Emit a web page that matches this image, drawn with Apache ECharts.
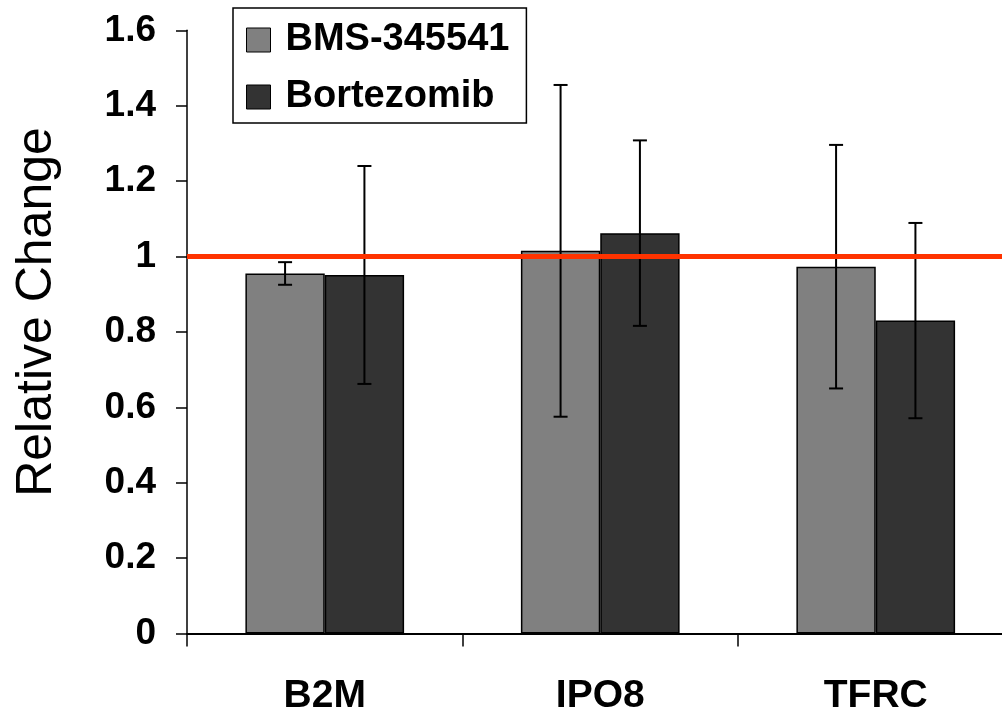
<!DOCTYPE html>
<html>
<head>
<meta charset="utf-8">
<script src="https://cdn.jsdelivr.net/npm/echarts@6/dist/echarts.min.js"></script>
<style>
html,body{margin:0;padding:0;background:#fff;}
#chart{width:1002px;height:713px;}
</style>
</head>
<body>
<div id="chart"></div>
<script>
// ---- data ----
const categories = ['B2M', 'IPO8', 'TFRC'];
const seriesNames = ['BMS-345541', 'Bortezomib'];
const bmsValues = [0.955, 1.015, 0.973];
const bmsErrors = [0.030, 0.440, 0.323];
const bortValues = [0.951, 1.062, 0.830];
const bortErrors = [0.289, 0.246, 0.259];
const yMin = 0, yMax = 1.6, yInterval = 0.2;
const referenceValue = 1;

const FONT = '"Liberation Sans", Arial, sans-serif';
const BAR_RATIO = 0.288;

function errorData(vals, errs) {
  return vals.map((v, i) => [i, v, errs[i]]);
}
function errorRender(side) {
  return function (params, api) {
    const band = api.size([1, 0])[0];
    const off = side * band * BAR_RATIO / 2;
    const top = api.coord([api.value(0), api.value(1) + api.value(2)]);
    const bot = api.coord([api.value(0), api.value(1) - api.value(2)]);
    const x = top[0] + off;
    const cap = 7;
    const st = { stroke: '#000', lineWidth: 2 };
    return {
      type: 'group',
      children: [
        { type: 'line', shape: { x1: x, y1: top[1], x2: x, y2: bot[1] }, style: st },
        { type: 'line', shape: { x1: x - cap, y1: top[1], x2: x + cap, y2: top[1] }, style: st },
        { type: 'line', shape: { x1: x - cap, y1: bot[1], x2: x + cap, y2: bot[1] }, style: st }
      ]
    };
  };
}

const chart = echarts.init(document.getElementById('chart'), null, { renderer: 'canvas' });
chart.setOption({
  animation: false,
  backgroundColor: '#fff',
  grid: { left: 187, top: 30.3, right: -11.5, bottom: 79.5, containLabel: false, outerBoundsMode: 'none' },
  legend: {
    orient: 'vertical',
    left: 233, top: 8,
    padding: [13, 17, 7, 13],
    itemGap: 19,
    itemWidth: 24, itemHeight: 24,
    icon: 'rect',
    borderColor: '#000', borderWidth: 1.5,
    backgroundColor: '#fff',
    data: seriesNames,
    textStyle: { fontFamily: FONT, fontWeight: 'bold', fontSize: 38, color: '#000', padding: [0, 0, 0, 10] },
    itemStyle: { borderColor: '#000', borderWidth: 1 }
  },
  graphic: [{
    type: 'text',
    x: 37, y: 312,
    rotation: Math.PI / 2,
    style: { text: 'Relative Change', font: '50px ' + FONT, fill: '#000', align: 'center', verticalAlign: 'middle' }
  }],
  xAxis: {
    type: 'category',
    data: categories,
    axisLine: { lineStyle: { color: '#000', width: 2 } },
    axisTick: { show: true, length: 13, lineStyle: { color: '#000', width: 1.5 } },
    axisLabel: { margin: 43, fontFamily: FONT, fontWeight: 'bold', fontSize: 39, color: '#000' },
    splitLine: { show: false }
  },
  yAxis: {
    type: 'value',
    min: yMin, max: yMax, interval: yInterval,
    axisLine: { show: true, lineStyle: { color: '#000', width: 1.5 } },
    axisTick: { show: true, length: 11, lineStyle: { color: '#000', width: 1.5 } },
    axisLabel: { margin: 31, fontFamily: FONT, fontWeight: 'bold', fontSize: 37, color: '#000' },
    splitLine: { show: false }
  },
  series: [
    {
      name: seriesNames[0], type: 'bar', data: bmsValues,
      barWidth: (BAR_RATIO * 100) + '%', barGap: '0%',
      itemStyle: { color: '#808080', borderColor: '#000', borderWidth: 1.5 },
      markLine: {
        silent: true, symbol: ['none', 'none'], z: 10,
        label: { show: false },
        lineStyle: { color: '#ff3300', width: 5, type: 'solid' },
        data: [{ yAxis: referenceValue }]
      }
    },
    {
      name: seriesNames[1], type: 'bar', data: bortValues,
      barWidth: (BAR_RATIO * 100) + '%', barGap: '0%',
      itemStyle: { color: '#333333', borderColor: '#000', borderWidth: 1.5 }
    },
    { type: 'custom', z: 5, data: errorData(bmsValues, bmsErrors), renderItem: errorRender(-1), silent: true },
    { type: 'custom', z: 5, data: errorData(bortValues, bortErrors), renderItem: errorRender(1), silent: true }
  ]
});
</script>
</body>
</html>
